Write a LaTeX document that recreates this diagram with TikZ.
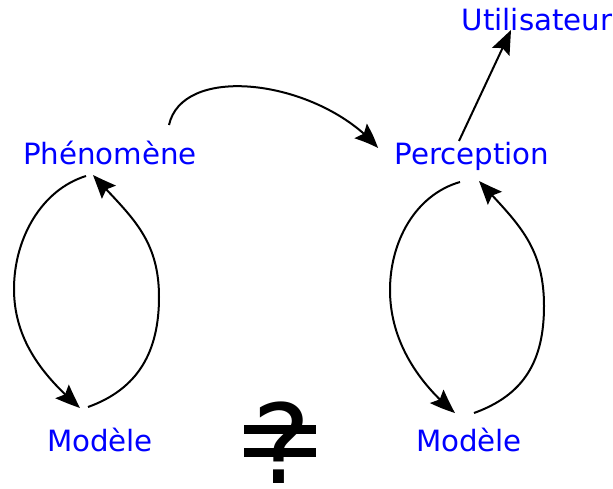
\documentclass[tikz,border=0pt]{standalone}
\usepackage{fontspec}
\setmainfont{DejaVu Sans}
\usetikzlibrary{arrows.meta,bending}
\tikzset{
  lbl/.style={text=blue, font=\fontsize{29.3}{31}\selectfont, inner sep=0pt},
  conn/.style={line width=2pt, -{Stealth[length=24pt,width=19pt,inset=4pt,bend]}},
  bar/.style={fill=black, draw=none}
}
\begin{document}
\begin{tikzpicture}[x=1pt,y=-1pt]
\useasboundingbox (0,0) rectangle (613,489);
\node[lbl] (ph) at (110,153) {Phénomène};
\node[lbl] (per) at (472,156) {Perception};
\node[lbl] (ut) at (537,20) {Utilisateur};
\node[lbl] (m1) at (100,440) {Modèle};
\node[lbl] (m2) at (469,440) {Modèle};
\coordinate (w1) at (14,289);
\coordinate (w2) at (159,297);
\coordinate (w3) at (390,290);
\coordinate (w4) at (544,306);
% left loop
\draw[conn] ([shift={(-24,23)}]ph.center) .. controls +(-45,14) and +(0,-50) .. (w1)
  .. controls +(0,55) and +(-32,-28) .. ([shift={(-20,-32)}]m1.center);
\draw[conn] ([shift={(-12,-33)}]m1.center) .. controls +(50,-18) and +(0,55) .. (w2)
  .. controls +(0,-60) and +(36,40) .. ([shift={(-17,22)}]ph.center);
% right loop
\draw[conn] ([shift={(-12,26)}]per.center) .. controls +(-45,13) and +(0,-48) .. (w3)
  .. controls +(0,55) and +(-32,-26) .. ([shift={(-14,-27)}]m2.center);
\draw[conn] ([shift={(5,-27)}]m2.center) .. controls +(50,-18) and +(0,55) .. (w4)
  .. controls +(0,-62) and +(36,40) .. ([shift={(7,25)}]per.center);
% top arc
\draw[conn] ([shift={(59,-28)}]ph.center) .. controls +(14,-63) and +(-58,-68) .. ([shift={(-94,-8)}]per.center);
% to user
\draw[conn] ([shift={(-13,-15)}]per.center) -- ([shift={(-26,10)}]ut.center);
% not-equal-question symbol
\node[font=\fontsize{110}{110}\selectfont, inner sep=0pt, text depth=0pt, anchor=base] (q) at (282,483) {?};
\fill[bar] (244,425) rectangle (316,434);
\fill[bar] (244,448) rectangle (316,457);
\end{tikzpicture}
\end{document}
